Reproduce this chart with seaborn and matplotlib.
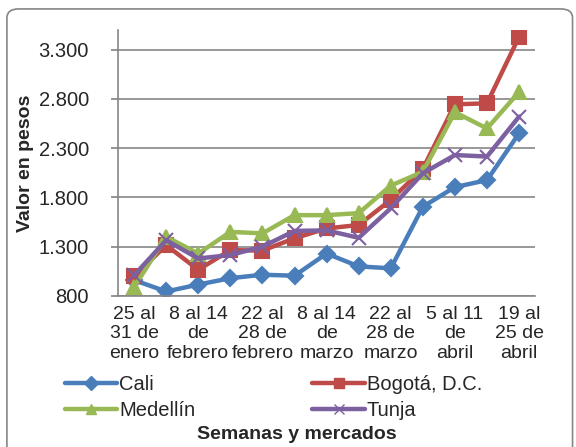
import matplotlib

matplotlib.use("Agg")
import matplotlib.pyplot as plt
import pandas as pd
import seaborn as sns
from matplotlib.patches import FancyBboxPatch
from matplotlib.ticker import FuncFormatter

weeks = [
    "25 al\n31 de\nenero", "1 al 7\nde\nfebrero", "8 al 14\nde\nfebrero", "15 al 21\nde\nfebrero",
    "22 al\n28 de\nfebrero", "1 al 7\nde\nmarzo", "8 al 14\nde\nmarzo", "15 al 21\nde\nmarzo",
    "22 al\n28 de\nmarzo", "29 de\nmarzo al\n4 de abril", "5 al 11\nde\nabril", "12 al 18\nde\nabril",
    "19 al\n25 de\nabril",
]
cali = [960, 845, 915, 980, 1015, 1005, 1230, 1100, 1080, 1705, 1905, 1975, 2450]
bogota = [1000, 1315, 1065, 1265, 1260, 1385, 1485, 1520, 1775, 2090, 2745, 2755, 3430]
medellin = [890, 1400, 1230, 1450, 1435, 1620, 1620, 1640, 1920, 2060, 2665, 2500, 2870]
tunja = [1010, 1365, 1180, 1215, 1300, 1460, 1465, 1390, 1690, 2045, 2230, 2215, 2620]
markets = ["Cali", "Bogotá, D.C.", "Medellín", "Tunja"]

colors = ["#4A7EBB", "#BE4B48", "#98B954", "#7D60A0"]
markers = ["D", "s", "^", "x"]
msizes = [8, 10, 10, 10]

sns.set_theme(style="white")
plt.rcParams["font.family"] = ["Liberation Sans", "DejaVu Sans"]

fig = plt.figure(figsize=(5.76, 4.47), dpi=100)
ax = fig.add_axes([0.205, 0.338, 0.724, 0.595])

for name, vals, c, m, ms in zip(markets, [cali, bogota, medellin, tunja], colors, markers, msizes):
    df = pd.DataFrame({"idx": range(len(vals)), "valor": vals})
    sns.lineplot(data=df, x="idx", y="valor", color=c, marker=m, markersize=ms,
                 markeredgecolor=c, markerfacecolor=c, markeredgewidth=1.5,
                 linewidth=3.2, ax=ax)

ax.set_xlim(-0.5, len(weeks) - 0.5)
ax.set_ylim(800, 3500)
ax.set_yticks(range(800, 3301, 500))
ax.yaxis.set_major_formatter(FuncFormatter(lambda v, p: f"{int(v):,}".replace(",", ".")))
ax.set_xticks(range(0, len(weeks), 2))
ax.set_xticklabels(weeks[::2], fontsize=14, linespacing=1.2)
ax.tick_params(axis="y", labelsize=14.5, length=5, color="#868686", direction="out",
               left=True, pad=16)
ax.tick_params(axis="x", length=0, pad=7)
ax.grid(axis="y", color="#868686", linewidth=1.2)
ax.set_axisbelow(True)
for s in ["top", "right"]:
    ax.spines[s].set_visible(False)
for s in ["left", "bottom"]:
    ax.spines[s].set_color("#868686")
    ax.spines[s].set_linewidth(1.2)
ax.set_xlabel("")
ax.set_ylabel("")
fig.text(0.045, 0.635, "Valor en pesos", rotation=90, ha="center", va="center",
         fontsize=14, fontweight="bold")

handles = []
for c, m in zip(colors, markers):
    h = plt.Line2D([0, 1, 2], [0, 0, 0], color=c, marker=m, markersize=7, linewidth=3.2,
                   markeredgecolor=c, markerfacecolor=c, markevery=[1])
    handles.append(h)
order = [0, 2, 1, 3]
fig.legend([handles[i] for i in order], [markets[i] for i in order], loc="center left",
           bbox_to_anchor=(0.113, 0.11), ncol=2, frameon=False, fontsize=14.5,
           handlelength=2.6, handletextpad=0.1, columnspacing=5.8, labelspacing=0.35,
           borderpad=0, borderaxespad=0)
fig.text(0.515, 0.027, "Semanas y mercados", ha="center", va="center",
         fontsize=14, fontweight="bold")

fig.patches.append(FancyBboxPatch((0.012, -0.02), 0.982, 1.0, boxstyle="round,pad=0,rounding_size=0.02",
                                  transform=fig.transFigure, fill=False, edgecolor="#868686",
                                  linewidth=1.2))

fig.savefig("out.png", dpi=100)
